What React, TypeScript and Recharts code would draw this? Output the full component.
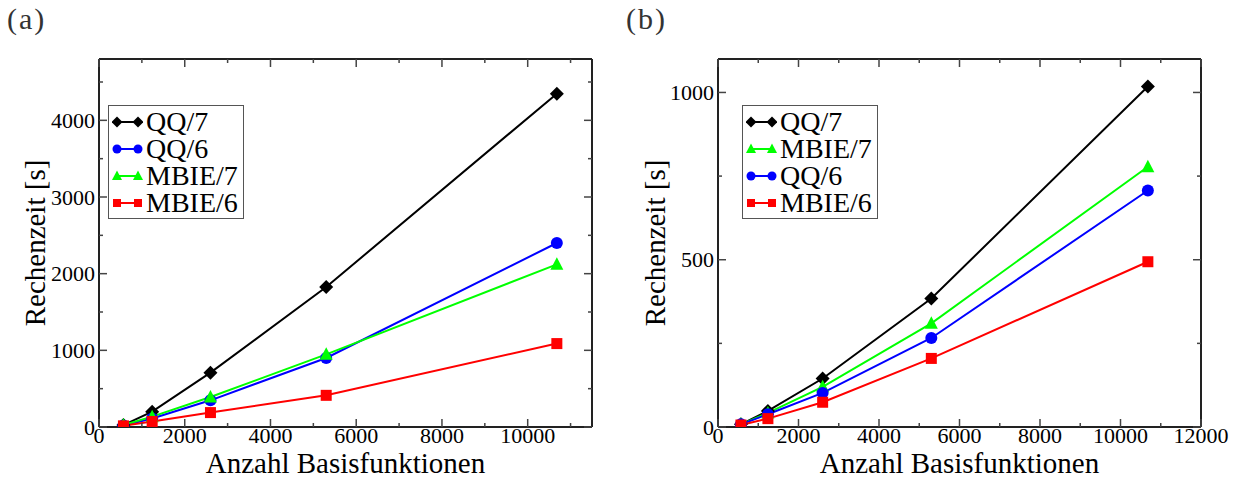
import React from 'react'
import { Legend, Line, LineChart, XAxis, YAxis } from 'recharts'

// Anzahl Basisfunktionen (shared x values)
const basis = [570, 1240, 2600, 5300, 10680]

// panel (a): Rechenzeit [s]
const qq7A = [25, 200, 709, 1826, 4348]
const qq6A = [20, 110, 348, 900, 2400]
const mbie7A = [25, 135, 391, 948, 2122]
const mbie6A = [15, 72, 188, 413, 1088]

// panel (b): Rechenzeit [s]
const qq7B = [8, 48, 145, 384, 1018]
const mbie7B = [8, 42, 120, 310, 778]
const qq6B = [8, 38, 102, 266, 707]
const mbie6B = [6, 25, 74, 205, 494]

// axis ticks
const xTicksA = [0, 1000, 2000, 3000, 4000, 5000, 6000, 7000, 8000, 9000, 10000, 11000]
const yTicksA = [0, 500, 1000, 1500, 2000, 2500, 3000, 3500, 4000, 4500]
const xTicksB = [0, 1000, 2000, 3000, 4000, 5000, 6000, 7000, 8000, 9000, 10000, 11000, 12000]
const yTicksB = [0, 250, 500, 750, 1000]

const serif = "'Liberation Serif', 'Times New Roman', serif"
const frame = '#222'
const tickColor = '#444'

type Shape = 'diamond' | 'circle' | 'triangle' | 'square'

interface Series {
  key: string
  name: string
  color: string
  shape: Shape
  values: number[]
}

const seriesA: Series[] = [
  { key: 'qq7', name: 'QQ/7', color: '#000000', shape: 'diamond', values: qq7A },
  { key: 'qq6', name: 'QQ/6', color: '#0000ff', shape: 'circle', values: qq6A },
  { key: 'mbie7', name: 'MBIE/7', color: '#00ff00', shape: 'triangle', values: mbie7A },
  { key: 'mbie6', name: 'MBIE/6', color: '#ff0000', shape: 'square', values: mbie6A },
]

const seriesB: Series[] = [
  { key: 'qq7', name: 'QQ/7', color: '#000000', shape: 'diamond', values: qq7B },
  { key: 'mbie7', name: 'MBIE/7', color: '#00ff00', shape: 'triangle', values: mbie7B },
  { key: 'qq6', name: 'QQ/6', color: '#0000ff', shape: 'circle', values: qq6B },
  { key: 'mbie6', name: 'MBIE/6', color: '#ff0000', shape: 'square', values: mbie6B },
]

const toRows = (series: Series[]) =>
  basis.map((n, i) => {
    const row: Record<string, number> = { n }
    series.forEach((s) => {
      row[s.key] = s.values[i]
    })
    return row
  })

const Marker = ({ cx, cy, shape, color, size }: any) => {
  if (cx == null || cy == null) return null
  const h = size / 2
  switch (shape) {
    case 'diamond':
      return (
        <polygon
          points={`${cx},${cy - h - 1} ${cx + h + 1},${cy} ${cx},${cy + h + 1} ${cx - h - 1},${cy}`}
          fill={color}
        />
      )
    case 'circle':
      return <circle cx={cx} cy={cy} r={h} fill={color} />
    case 'triangle':
      return (
        <polygon
          points={`${cx},${cy - h - 1} ${cx + h + 0.5},${cy + h - 0.5} ${cx - h - 0.5},${cy + h - 0.5}`}
          fill={color}
        />
      )
    default:
      return <rect x={cx - h + 0.5} y={cy - h + 0.5} width={size - 1} height={size - 1} fill={color} />
  }
}

const BottomTick = (props: any) => {
  const { x, y, payload, step, labels } = props
  const v = payload.value
  const major = v % step === 0
  return (
    <g>
      <line x1={x} x2={x} y1={y} y2={y - (major ? 8 : 4)} stroke={tickColor} strokeWidth={1.5} />
      {labels && major && (
        <text x={x} y={y + 16} textAnchor="middle" fontFamily={serif} fontSize={22} fill="#000">
          {v}
        </text>
      )}
    </g>
  )
}

const TopTick = (props: any) => {
  const { x, y, payload, step } = props
  const major = payload.value % step === 0
  return <line x1={x} x2={x} y1={y} y2={y + (major ? 8 : 4)} stroke={tickColor} strokeWidth={1.5} />
}

const LeftTick = (props: any) => {
  const { x, y, payload, step } = props
  const v = payload.value
  const major = v % step === 0
  return (
    <g>
      <line x1={x} x2={x + (major ? 8 : 4)} y1={y} y2={y} stroke={tickColor} strokeWidth={1.5} />
      {major && (
        <text x={x - 4} y={y + 7.5} textAnchor="end" fontFamily={serif} fontSize={22} fill="#000">
          {v}
        </text>
      )}
    </g>
  )
}

const RightTick = (props: any) => {
  const { x, y, payload, step } = props
  const major = payload.value % step === 0
  return <line x1={x} x2={x - (major ? 8 : 4)} y1={y} y2={y} stroke={tickColor} strokeWidth={1.5} />
}

const YTitle = (props: any) => {
  const vb = props.viewBox || { x: 0, y: 0, height: 0 }
  const cx = vb.x + 35
  const cy = vb.y + vb.height / 2
  return (
    <text
      x={cx}
      y={cy}
      transform={`rotate(-90 ${cx} ${cy})`}
      textAnchor="middle"
      dominantBaseline="central"
      fontFamily={serif}
      fontSize={29}
      fill="#000"
    >
      Rechenzeit [s]
    </text>
  )
}

const LegendBox = ({ series }: { series: Series[] }) => (
  <div
    style={{
      border: '1.5px solid #555',
      background: '#fff',
      padding: '2px 5px 2px 3px',
      fontFamily: serif,
      fontSize: 28,
      color: '#000',
    }}
  >
    {series.map((s) => (
      <div key={s.key} style={{ display: 'flex', alignItems: 'center', height: 27 }}>
        <svg width={31} height={16} style={{ display: 'block' }}>
          <line x1={5} x2={26} y1={8} y2={8} stroke={s.color} strokeWidth={2} />
          <Marker cx={5} cy={8} shape={s.shape} color={s.color} size={9} />
          <Marker cx={26} cy={8} shape={s.shape} color={s.color} size={9} />
        </svg>
        <span
          style={{ display: 'block', height: 27, marginLeft: 3, lineHeight: '27px', whiteSpace: 'nowrap' }}
        >
          {s.name}
        </span>
      </div>
    ))}
  </div>
)

interface PanelProps {
  series: Series[]
  width: number
  left: number
  right: number
  xMax: number
  yMax: number
  xTicks: number[]
  yTicks: number[]
  yStep: number
  legendLeft: number
}

const Panel = ({ series, width, left, right, xMax, yMax, xTicks, yTicks, yStep, legendLeft }: PanelProps) => {
  const rows = toRows(series)
  const axisLine = { stroke: frame, strokeWidth: 2 }
  return (
    <LineChart width={width} height={478} data={rows} margin={{ top: 58, right: right - 1, bottom: 0, left: 0 }}>
      <XAxis
        xAxisId="b"
        dataKey="n"
        type="number"
        domain={[0, xMax]}
        allowDataOverflow
        ticks={xTicks}
        interval={0}
        height={51}
        tickLine={false}
        tickSize={0}
        tickMargin={0}
        axisLine={axisLine}
        tick={<BottomTick step={2000} labels />}
        label={{
          value: 'Anzahl Basisfunktionen',
          position: 'insideBottom',
          offset: 5,
          style: { fontFamily: serif, fontSize: 29, fill: '#000' },
        }}
      />
      <XAxis
        xAxisId="t"
        orientation="top"
        dataKey="n"
        type="number"
        domain={[0, xMax]}
        allowDataOverflow
        ticks={xTicks}
        interval={0}
        height={1}
        tickLine={false}
        tickSize={0}
        tickMargin={0}
        axisLine={axisLine}
        tick={<TopTick step={2000} />}
      />
      <YAxis
        yAxisId="l"
        type="number"
        domain={[0, yMax]}
        allowDataOverflow
        ticks={yTicks}
        interval={0}
        width={left}
        tickLine={false}
        tickSize={0}
        tickMargin={0}
        axisLine={axisLine}
        tick={<LeftTick step={yStep} />}
        label={{ content: <YTitle /> }}
      />
      <YAxis
        yAxisId="r"
        orientation="right"
        type="number"
        domain={[0, yMax]}
        allowDataOverflow
        ticks={yTicks}
        interval={0}
        width={1}
        tickLine={false}
        tickSize={0}
        tickMargin={0}
        axisLine={axisLine}
        tick={<RightTick step={yStep} />}
      />
      {series.map((s) => (
        <Line
          key={s.key}
          xAxisId="b"
          yAxisId="l"
          dataKey={s.key}
          name={s.name}
          stroke={s.color}
          strokeWidth={2}
          isAnimationActive={false}
          activeDot={false}
          dot={(p: any) => (
            <Marker key={`${s.key}-${p.index}`} cx={p.cx} cy={p.cy} shape={s.shape} color={s.color} size={12} />
          )}
        />
      ))}
      <Legend
        layout="vertical"
        align="center"
        verticalAlign="middle"
        wrapperStyle={{ left: legendLeft, top: 105, width: 'auto', height: 'auto' }}
        content={() => <LegendBox series={series} />}
      />
    </LineChart>
  )
}

const panelLabel: React.CSSProperties = {
  position: 'absolute',
  top: 2,
  fontFamily: serif,
  fontSize: 30,
  letterSpacing: 2,
  color: '#333',
}

export default function App() {
  return (
    <div style={{ position: 'absolute', left: 0, top: 0, width: 1241, height: 478, background: '#fff' }}>
      <div style={{ ...panelLabel, left: 7 }}>(a)</div>
      <div style={{ ...panelLabel, left: 626 }}>(b)</div>
      <div style={{ position: 'absolute', left: 0, top: 0 }}>
        <Panel
          series={seriesA}
          width={620}
          left={99}
          right={28}
          xMax={11500}
          yMax={4800}
          xTicks={xTicksA}
          yTicks={yTicksA}
          yStep={1000}
          legendLeft={108}
        />
      </div>
      <div style={{ position: 'absolute', left: 620, top: 0 }}>
        <Panel
          series={seriesB}
          width={621}
          left={98}
          right={40}
          xMax={12000}
          yMax={1100}
          xTicks={xTicksB}
          yTicks={yTicksB}
          yStep={500}
          legendLeft={122}
        />
      </div>
    </div>
  )
}
